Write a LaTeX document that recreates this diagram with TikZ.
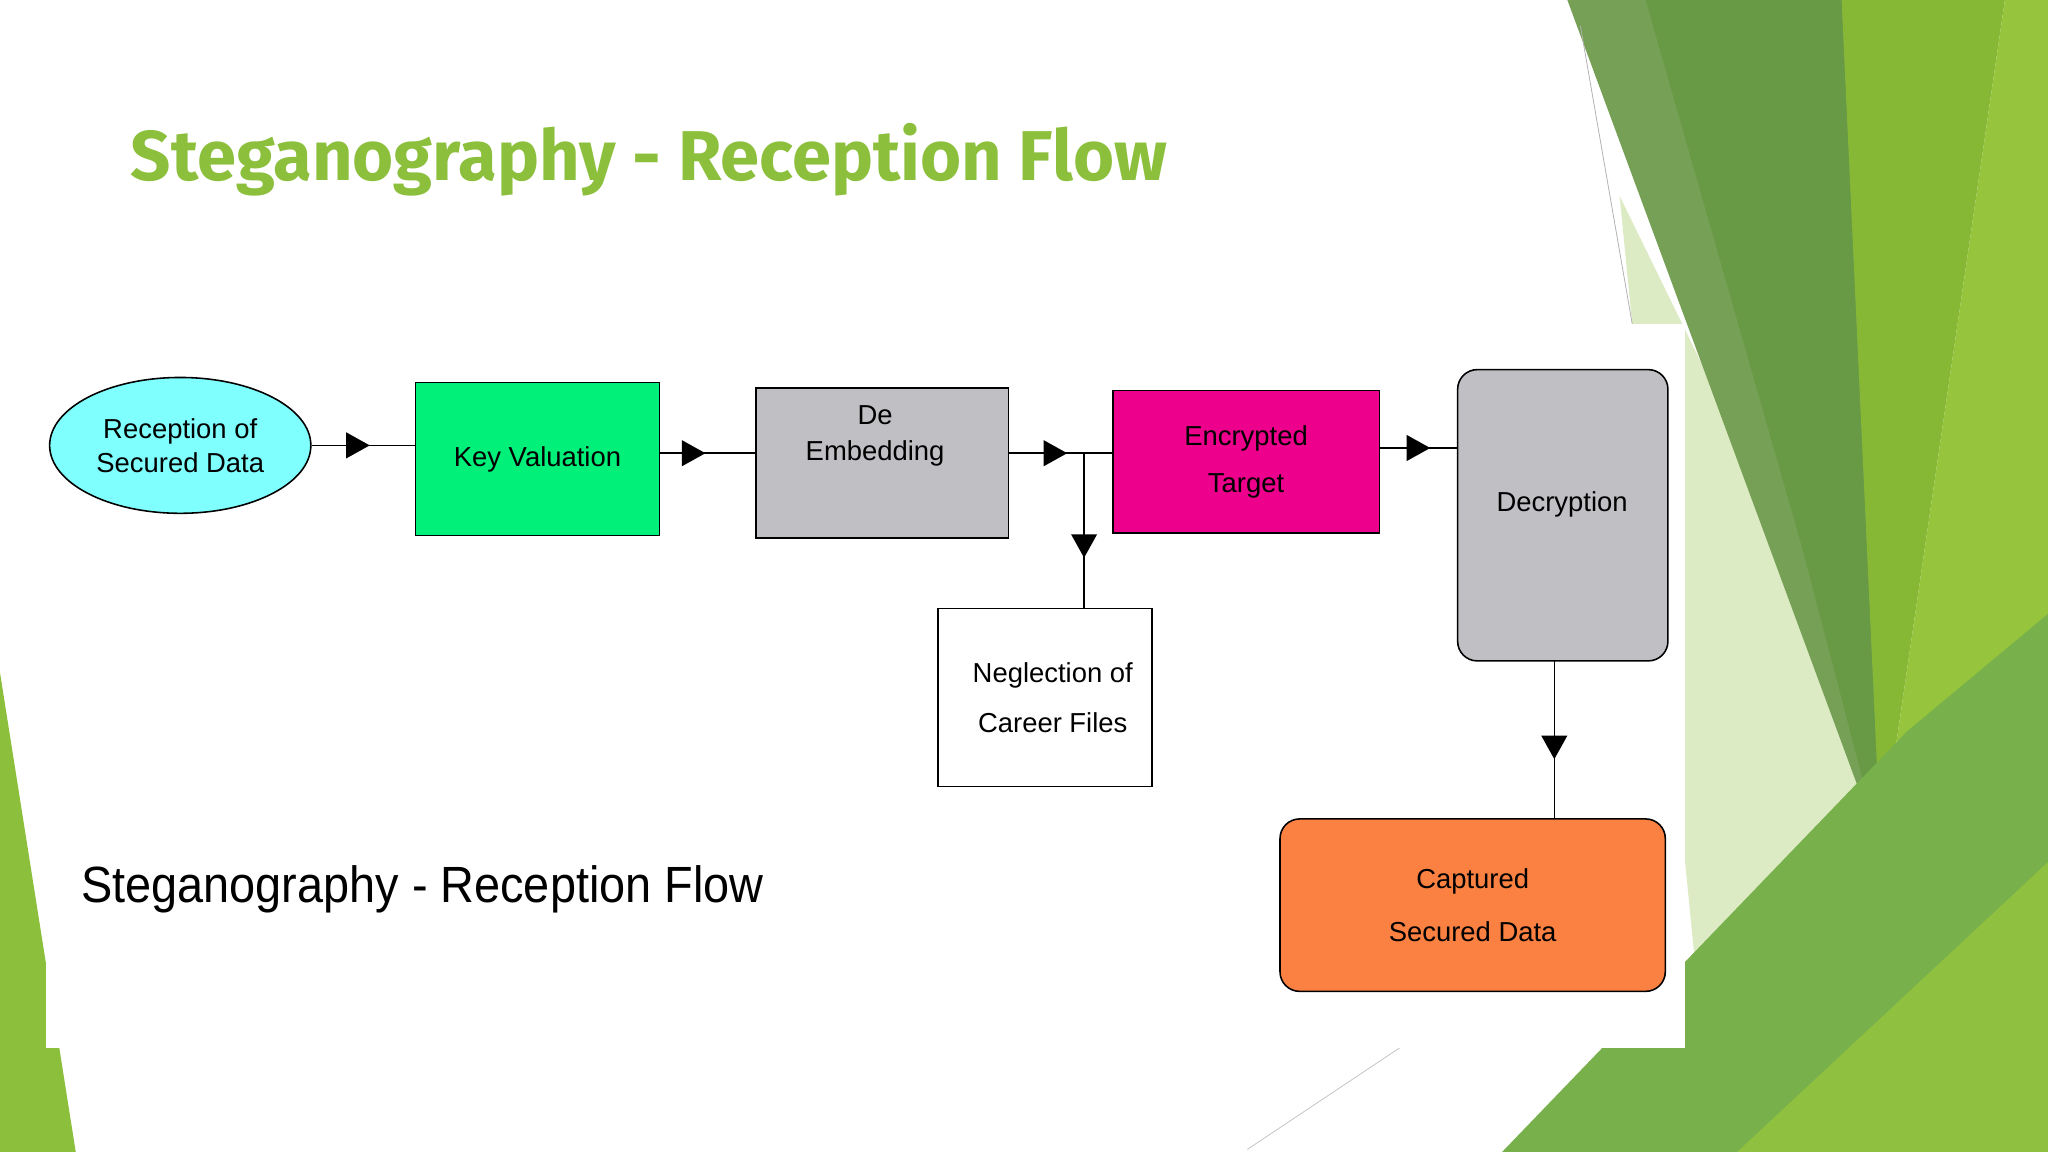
\documentclass[tikz,border=0pt]{standalone}
\usepackage{fontspec}
\setmainfont{Liberation Sans}
\newfontfamily\titlefont{Fira Sans}
\usetikzlibrary{decorations.markings,shapes.geometric}
\definecolor{ttl}{HTML}{8CC03C}
\definecolor{gA}{HTML}{76A055}
\definecolor{gB}{HTML}{689A45}
\definecolor{gC}{HTML}{86B836}
\definecolor{gD}{HTML}{96C43C}
\definecolor{gE}{HTML}{78B04C}
\definecolor{gF}{HTML}{DDEBC4}
\definecolor{cyanf}{HTML}{80FFFF}
\definecolor{keyf}{HTML}{00F07A}
\definecolor{grayf}{HTML}{C0BFC4}
\definecolor{orf}{HTML}{FB8142}
\tikzset{
  box/.style={draw=black, line width=1.2pt, minimum width=#1, align=center, font=\fontsize{21}{34}\selectfont, inner sep=0pt},
  conn/.style={line width=1.2pt, postaction={decorate}, decoration={markings, mark=at position #1 with {\fill[black] (-9,-10)--(9,0)--(-9,10)--cycle;}}},
}
\begin{document}
\begin{tikzpicture}[x=1pt,y=-1pt]
\useasboundingbox (0,0) rectangle (1568,882);
\fill[white] (0,0) rectangle (1568,882);
% background greens
\fill[gF] (1240,150) -- (1460,600) -- (1300,760) -- cycle;
\fill[gA] (1200,0) -- (1420,0) -- (1440,650) -- cycle;
\fill[gB] (1260,0) -- (1410,0) -- (1440,650) -- (1380,420) -- cycle;
\fill[gC] (1410,0) -- (1535,0) -- (1440,650) -- cycle;
\fill[gD] (1535,0) -- (1568,0) -- (1568,882) -- (1420,882) -- (1440,650) -- cycle;
\fill[gE] (1150,882) -- (1460,560) -- (1568,470) -- (1568,882) -- cycle;
\fill[gD, opacity=.8] (1330,882) -- (1568,660) -- (1568,882) -- cycle;
\fill[ttl] (0,515) -- (58,882) -- (0,882) -- cycle;
\draw[gray!60, line width=.6pt] (1210,20) -- (1250,250);
\draw[gray!50, line width=.5pt] (955,880) -- (1075,800);
% pasted image area
\fill[white] (35,248) rectangle (1290,802);
% title
\node[anchor=west, text=ttl, font=\titlefont\bfseries\fontsize{54}{60}\selectfont, inner sep=0pt] (title) at (100,122) {Steganography - Reception Flow};
\node[anchor=west, font=\fontsize{39}{44}\selectfont, inner sep=0pt, xscale=.92] (cap) at (62,681) {Steganography - Reception Flow};
% nodes
\node[box=200pt, ellipse, fill=cyanf, minimum height=104pt] (rec) at (138,341) {Reception of\\[-8pt]Secured Data};
\node[box=187pt, rectangle, fill=keyf, minimum height=117pt] (key) at (411.5,351.5) {Key Valuation};
\node[box=193pt, rectangle, fill=grayf, minimum height=115pt] (de) at (675.5,354.5) {};
\node[anchor=north, align=center, font=\fontsize{21}{28}\selectfont, inner sep=0pt] (detext) at (670,310) {De\\Embedding};
\node[box=204pt, rectangle, fill=magenta, minimum height=109pt] (enc) at (954,353.5) {Encrypted\\[2pt]Target};
\node[box=161pt, rectangle, rounded corners=15pt, fill=grayf, minimum height=223pt] (dec) at (1196.5,394.5) {};
\node[font=\fontsize{21}{28}\selectfont, inner sep=0pt] (dectext) at (1196,386) {Decryption};
\node[box=295pt, rectangle, rounded corners=15pt, fill=orf, minimum height=132pt] (cap2) at (1127.5,693) {Captured\\[6pt]Secured Data};
\node[box=164pt, rectangle, fill=white, minimum height=136pt] (neg) at (800,534) {\hspace*{12pt}Neglection of\\[4pt]\hspace*{12pt}Career Files};
\coordinate (j) at (830,347);
\coordinate (d) at (1190,506);
% connectors
\draw[conn=0.45] (rec.east) -- (key.west |- rec.east);
\draw[conn=0.35] (key.east |- j) -- (de.west |- j);
\draw[conn=0.45] (de.east |- j) -- (j) -- (enc.west |- j);
\draw[conn=0.6] (j) -- (j |- neg.north);
\draw[conn=0.5] (enc.east |- 0,343) -- (dec.west |- 0,343);
\draw[conn=0.55] (d) -- (d |- cap2.north);
\end{tikzpicture}
\end{document}
